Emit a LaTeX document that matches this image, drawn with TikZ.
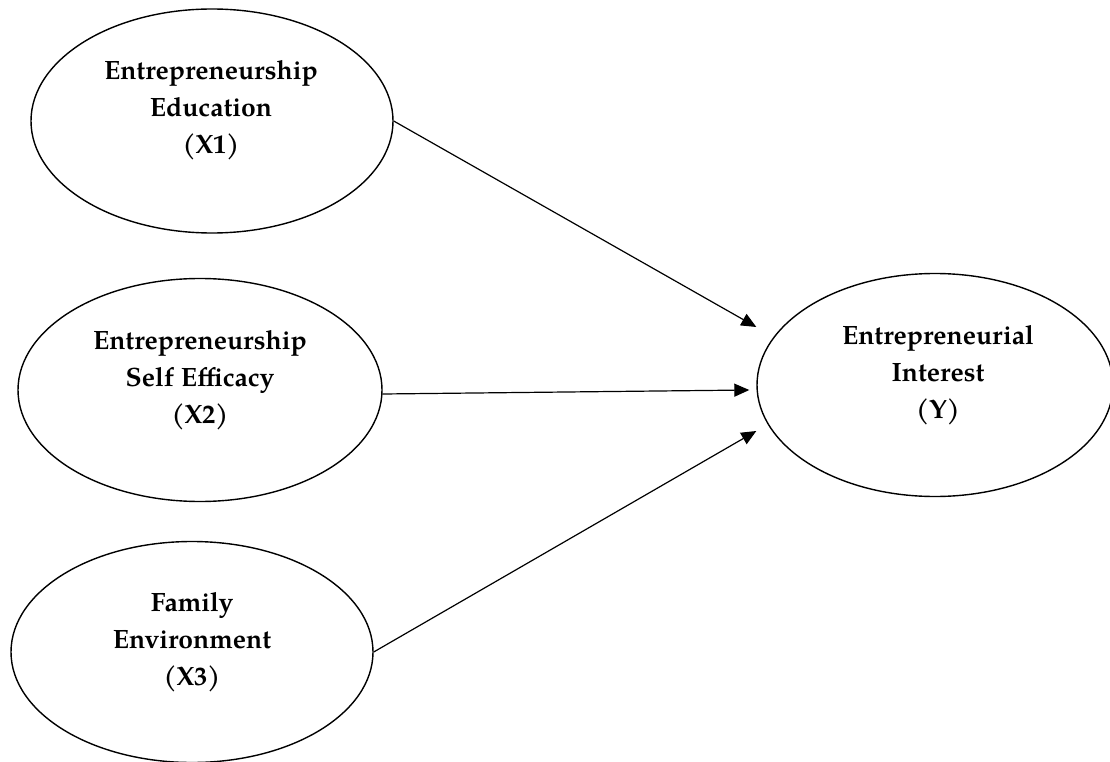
\documentclass[tikz,border=0pt]{standalone}
\usepackage{fontspec}
\setmainfont{TeX Gyre Pagella}
\usetikzlibrary{shapes.geometric,arrows.meta}
\begin{document}
\begin{tikzpicture}[x=1pt,y=-1pt,
  oval/.style={draw,ellipse,line width=1.4pt,inner sep=0pt},
  lbl/.style={align=center,font=\fontsize{26.5}{37}\selectfont\bfseries},
  conn/.style={line width=1.2pt,-{Triangle[length=15pt,width=13pt]}}]
\useasboundingbox (0,0) rectangle (1110,762);
\node[oval,minimum width=362pt,minimum height=224pt] (x1) at (212,121) {};
\node[oval,minimum width=364pt,minimum height=223pt] (x2) at (200,390) {};
\node[oval,minimum width=362pt,minimum height=221pt] (x3) at (192,652) {};
\node[oval,minimum width=356pt,minimum height=223pt] (y) at (935,385) {};
\node[lbl] (t1) at (211,110) {Entrepreneurship\\Education\\(X1)};
\node[lbl] (t2) at (200,380) {Entrepreneurship\\Self Efficacy\\(X2)};
\node[lbl] (t3) at (192,642) {Family\\Environment\\(X3)};
\node[lbl] (ty) at (938,375) {Entrepreneurial\\Interest\\(Y)};
\draw[conn] (x1.east) -- ([yshift=58pt]y.west);
\draw[conn] ([yshift=-4pt]x2.east) -- ([xshift=-7pt,yshift=-5pt]y.west);
\draw[conn] (x3.east) -- ([yshift=-46pt]y.west);
\end{tikzpicture}
\end{document}
